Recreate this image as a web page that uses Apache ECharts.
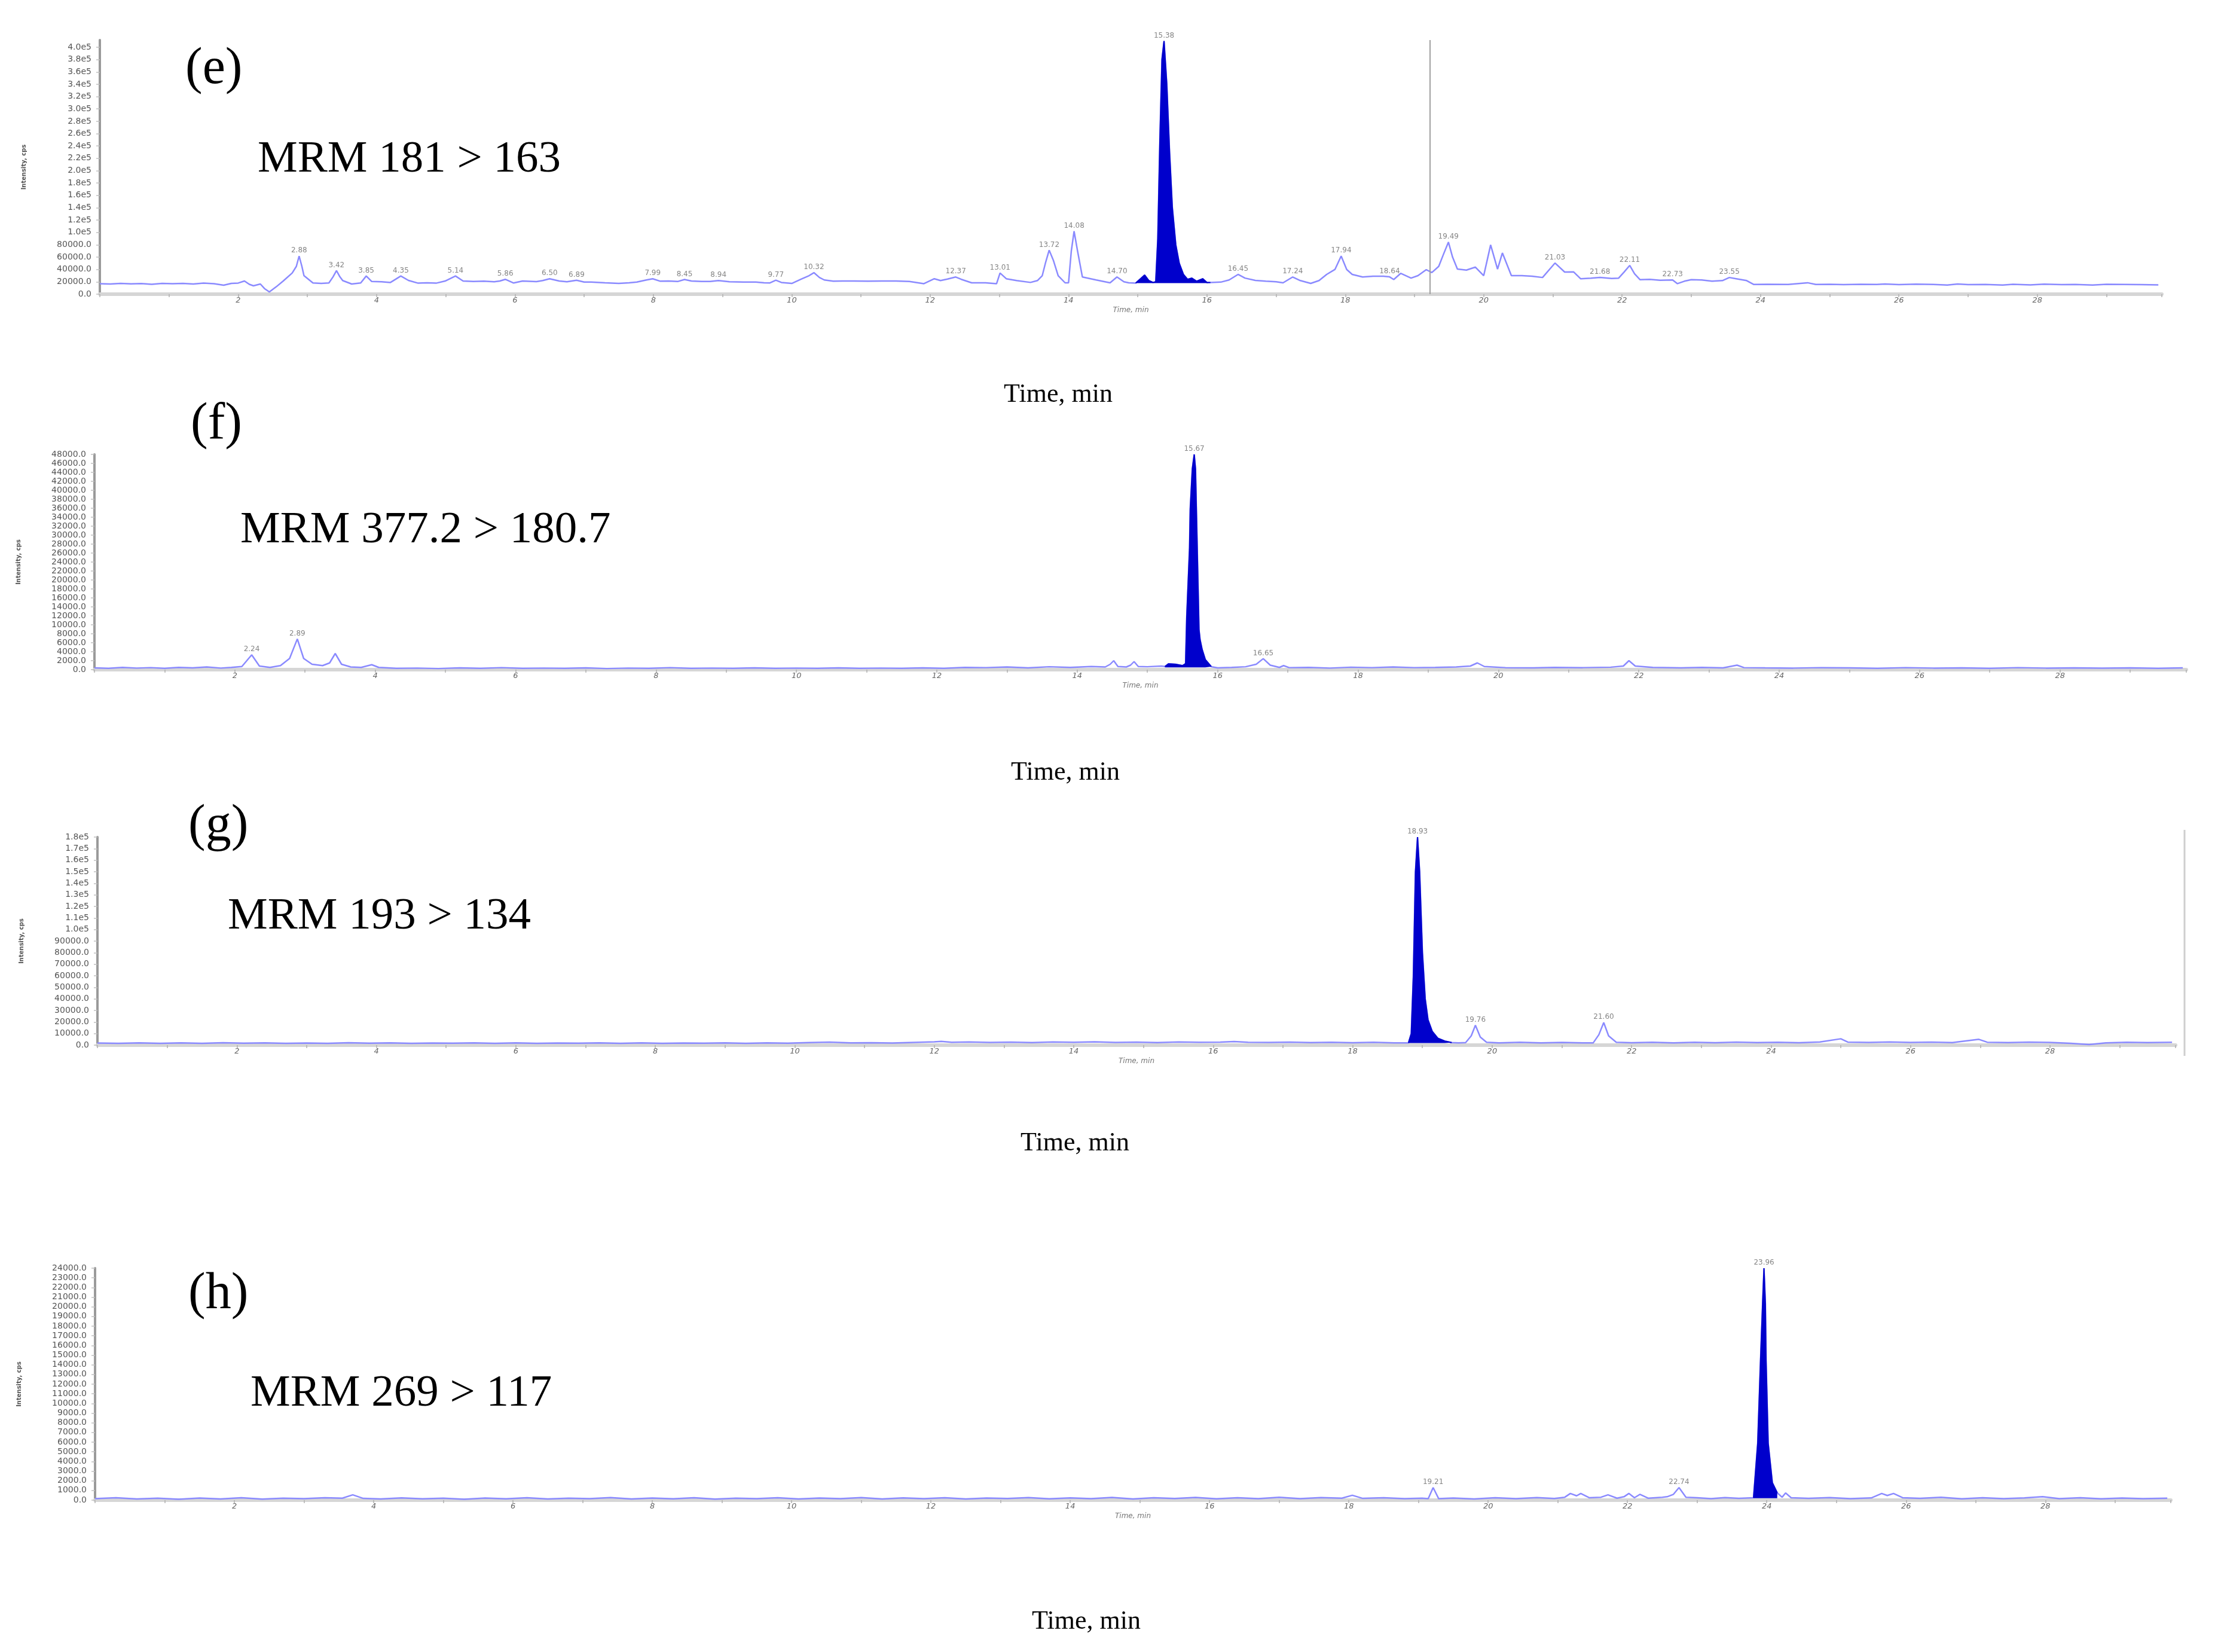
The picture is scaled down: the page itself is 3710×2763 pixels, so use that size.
<!DOCTYPE html>
<html><head><meta charset="utf-8">
<script src="https://cdn.jsdelivr.net/npm/echarts/dist/echarts.min.js"></script>
<style>html,body{margin:0;padding:0;background:#fff}#c{width:3710px;height:2763px}</style>
</head><body><div id="c"></div>
<script>
// ---------- DATA (time in min, intensity in cps) ----------
const panelTitles = ['(e)', '(f)', '(g)', '(h)'];
const mrmLabels = ['MRM 181 > 163', 'MRM 377.2 > 180.7', 'MRM 193 > 134', 'MRM 269 > 117'];
const xTitle = 'Time, min';
const yTitle = 'Intensity, cps';

const traceE = [[0.00,17000],[0.15,16500],[0.30,17500],[0.45,16800],[0.60,17200],[0.75,16000],[0.90,17500],[1.05,17000],[1.20,17400],[1.35,16500],[1.50,17800],[1.65,16900],[1.79,14500],[1.90,17500],[2.00,18000],[2.09,21300],[2.16,16000],[2.22,13600],[2.32,16500],[2.38,9000],[2.45,3600],[2.55,12000],[2.65,21300],[2.78,34200],[2.84,45000],[2.88,61700],[2.92,45000],[2.95,30000],[3.08,18100],[3.20,17500],[3.31,18100],[3.37,28000],[3.42,38100],[3.47,28000],[3.51,22000],[3.64,16500],[3.77,18100],[3.85,29400],[3.93,20500],[4.07,20000],[4.20,19000],[4.35,29400],[4.46,22300],[4.60,17800],[4.73,18500],[4.86,17800],[4.99,21300],[5.14,29400],[5.25,21300],[5.40,20500],[5.55,21000],[5.70,20000],[5.78,21300],[5.86,24000],[5.98,18100],[6.11,21300],[6.31,20300],[6.40,22000],[6.50,25000],[6.64,21300],[6.75,20000],[6.89,22500],[7.00,19700],[7.10,19700],[7.30,18500],[7.50,17400],[7.65,18500],[7.76,19700],[7.90,23000],[7.99,25000],[8.10,21000],[8.22,21300],[8.35,20500],[8.45,23700],[8.55,21300],[8.70,20500],[8.82,20600],[8.94,22000],[9.10,20000],[9.30,19500],[9.48,19700],[9.60,18500],[9.68,18100],[9.77,22600],[9.85,19000],[10.00,17400],[10.14,24500],[10.25,30000],[10.32,34800],[10.40,27000],[10.47,23000],[10.60,21000],[10.73,21300],[10.90,21300],[11.10,21000],[11.30,21300],[11.51,21300],[11.70,20500],[11.91,17000],[12.06,25000],[12.15,22000],[12.25,24500],[12.37,27800],[12.45,24000],[12.60,18400],[12.80,18500],[12.96,17000],[13.01,34200],[13.10,25000],[13.25,22000],[13.45,19000],[13.55,22000],[13.62,30000],[13.67,52000],[13.72,71300],[13.78,55000],[13.85,30000],[13.95,18400],[14.00,18400],[14.04,70000],[14.08,102000],[14.13,70000],[14.20,27800],[14.40,23000],[14.60,18400],[14.70,27800],[14.80,20000],[14.87,18400],[14.97,18000],[15.05,26000],[15.10,31000],[15.16,22000],[15.22,19000],[15.26,20000],[15.29,90000],[15.32,250000],[15.35,380000],[15.38,410000],[15.42,340000],[15.46,230000],[15.50,140000],[15.55,80000],[15.60,50000],[15.66,32000],[15.72,24000],[15.78,26000],[15.85,21000],[15.94,25000],[16.00,19000],[16.05,19000],[16.20,19500],[16.32,23000],[16.45,32000],[16.55,26000],[16.70,22300],[16.85,21000],[17.00,20000],[17.10,18400],[17.24,27800],[17.35,22000],[17.50,17400],[17.62,22000],[17.73,32000],[17.85,40000],[17.94,61700],[18.02,40000],[18.10,32000],[18.25,27800],[18.40,29000],[18.55,29000],[18.64,28000],[18.70,23700],[18.80,33700],[18.95,26000],[19.05,30000],[19.17,39700],[19.25,35000],[19.35,45000],[19.42,65000],[19.49,84300],[19.55,60000],[19.62,40600],[19.75,39000],[19.88,43800],[20.00,30000],[20.10,79800],[20.20,40600],[20.27,66800],[20.40,30000],[20.55,30000],[20.70,29000],[20.85,27000],[21.03,50400],[21.17,35800],[21.30,36000],[21.40,25000],[21.55,26000],[21.68,27000],[21.85,25500],[21.95,26000],[22.03,36000],[22.11,46500],[22.18,33000],[22.26,23400],[22.40,24000],[22.55,22500],[22.73,23000],[22.80,17000],[22.90,21000],[23.00,23400],[23.15,23000],[23.30,21000],[23.45,22000],[23.55,27000],[23.65,25000],[23.80,22000],[23.90,15800],[24.10,16000],[24.40,15800],[24.68,18500],[24.80,15800],[25.00,16000],[25.20,15500],[25.45,16000],[25.68,15800],[25.80,16500],[26.00,15500],[26.25,16300],[26.50,15800],[26.70,14800],[26.85,16500],[27.00,15500],[27.25,15800],[27.50,14800],[27.65,16000],[27.90,15000],[28.10,16200],[28.35,15500],[28.55,15800],[28.80,14800],[29.00,16000],[29.25,15800],[29.50,15500],[29.75,15000]];
const fillRangeE = [14.97, 16.05];
const fillBaseE = 18000;
const peaksE = [2.88,3.42,3.85,4.35,5.14,5.86,6.50,6.89,7.99,8.45,8.94,9.77,10.32,12.37,13.01,13.72,14.08,14.70,15.38,16.45,17.24,17.94,18.64,19.49,21.03,21.68,22.11,22.73,23.55];
const cursorE = 19.22;

const traceF = [[0.00,400],[0.20,300],[0.40,500],[0.60,350],[0.80,450],[1.00,300],[1.20,500],[1.40,400],[1.60,600],[1.80,350],[1.95,500],[2.10,700],[2.24,3300],[2.35,800],[2.50,500],[2.65,900],[2.78,2500],[2.89,6850],[2.98,2500],[3.10,1200],[3.25,900],[3.35,1500],[3.43,3600],[3.52,1200],[3.65,600],[3.80,500],[3.95,1100],[4.05,500],[4.30,300],[4.60,350],[4.90,250],[5.20,400],[5.50,300],[5.80,450],[6.10,300],[6.40,350],[6.70,300],[7.00,400],[7.30,250],[7.60,350],[7.90,300],[8.20,450],[8.50,300],[8.80,350],[9.10,300],[9.40,400],[9.70,300],[10.00,350],[10.30,300],[10.60,400],[10.90,300],[11.20,350],[11.50,300],[11.80,400],[12.10,300],[12.40,500],[12.70,450],[13.00,600],[13.30,400],[13.60,650],[13.90,500],[14.20,700],[14.40,600],[14.47,1200],[14.52,2000],[14.58,700],[14.70,600],[14.76,1000],[14.81,1800],[14.87,700],[15.00,650],[15.20,800],[15.25,700],[15.30,1300],[15.40,1200],[15.50,900],[15.544,1340],[15.56,11650],[15.60,26880],[15.61,35840],[15.64,44800],[15.667,48000],[15.685,44800],[15.71,26880],[15.735,8960],[15.75,6720],[15.78,4480],[15.825,2240],[15.91,670],[16.00,400],[16.20,500],[16.40,650],[16.55,1200],[16.65,2450],[16.75,1000],[16.88,500],[16.94,900],[17.02,450],[17.30,500],[17.60,350],[17.90,550],[18.20,450],[18.50,600],[18.80,450],[19.10,500],[19.40,600],[19.60,800],[19.70,1500],[19.80,700],[20.10,450],[20.50,400],[20.80,500],[21.20,450],[21.60,550],[21.78,800],[21.86,2000],[21.95,800],[22.20,500],[22.60,400],[22.90,500],[23.20,400],[23.40,1000],[23.50,450],[23.80,400],[24.20,350],[24.60,450],[25.00,400],[25.40,300],[25.80,450],[26.20,350],[26.60,400],[27.00,300],[27.40,450],[27.80,350],[28.20,400],[28.60,350],[29.00,400],[29.40,300],[29.75,400]];
const fillRangeF = [15.25, 15.91];
const fillBaseF = 500;
const peaksF = [2.24, 2.89, 15.667, 16.65];

const traceG = [[0.00,1800],[0.30,1600],[0.60,2000],[0.90,1500],[1.20,1900],[1.50,1600],[1.80,2100],[2.10,1700],[2.40,2000],[2.70,1500],[3.00,1800],[3.30,1600],[3.60,2100],[3.90,1700],[4.20,1900],[4.50,1500],[4.80,1800],[5.10,1700],[5.40,2000],[5.70,1600],[6.00,1900],[6.30,1500],[6.60,1800],[6.90,1700],[7.20,2000],[7.50,1600],[7.80,1900],[8.10,1500],[8.40,1800],[8.70,1700],[9.00,2000],[9.30,1600],[9.60,1900],[9.90,1700],[10.20,2200],[10.50,2600],[10.80,1900],[11.10,2100],[11.40,1800],[11.70,2300],[12.00,2800],[12.10,3200],[12.25,2400],[12.50,2700],[12.80,2300],[13.10,2600],[13.40,2200],[13.70,2700],[14.00,2400],[14.30,2800],[14.60,2300],[14.90,2600],[15.20,2200],[15.50,2700],[15.80,2400],[16.10,2600],[16.30,3100],[16.50,2500],[16.80,2300],[17.10,2600],[17.40,2200],[17.70,2500],[18.00,2100],[18.30,2400],[18.60,2000],[18.80,2000],[18.84,10000],[18.87,60000],[18.90,150000],[18.93,180000],[18.96,150000],[19.00,80000],[19.04,40000],[19.08,22000],[19.14,12000],[19.22,6000],[19.32,3500],[19.42,2200],[19.52,2000],[19.62,2200],[19.70,8000],[19.76,17200],[19.83,7000],[19.92,2500],[20.10,2000],[20.40,2400],[20.70,1900],[21.00,2300],[21.30,2000],[21.45,2000],[21.53,9000],[21.60,19500],[21.67,8000],[21.78,2500],[22.00,2100],[22.30,2500],[22.60,2000],[22.90,2400],[23.20,2100],[23.50,2600],[23.80,2200],[24.10,2500],[24.40,2100],[24.70,2700],[25.00,5500],[25.10,2600],[25.40,2300],[25.70,2700],[26.00,2300],[26.30,2600],[26.60,2200],[26.98,5000],[27.10,2500],[27.40,2200],[27.70,2600],[28.00,2300],[28.30,1600],[28.56,500],[28.80,2000],[29.10,2500],[29.40,2200],[29.75,2400]];
const fillRangeG = [18.80, 19.42];
const fillBaseG = 1800;
const peaksG = [18.93, 19.76, 21.60];

const traceH = [[0.00,150],[0.30,250],[0.60,120],[0.90,200],[1.20,100],[1.50,220],[1.80,130],[2.10,240],[2.40,110],[2.70,200],[3.00,150],[3.30,250],[3.55,200],[3.70,550],[3.85,180],[4.10,120],[4.40,230],[4.70,140],[5.00,200],[5.30,100],[5.60,220],[5.90,140],[6.20,250],[6.50,120],[6.80,200],[7.10,150],[7.40,260],[7.70,120],[8.00,210],[8.30,140],[8.60,240],[8.90,110],[9.20,200],[9.50,150],[9.80,250],[10.10,130],[10.40,220],[10.70,150],[11.00,260],[11.30,120],[11.60,230],[11.90,160],[12.20,250],[12.50,130],[12.80,220],[13.10,170],[13.40,260],[13.70,140],[14.00,230],[14.30,150],[14.60,280],[14.90,130],[15.20,240],[15.50,170],[15.80,280],[16.10,140],[16.40,250],[16.70,160],[17.00,290],[17.30,150],[17.60,260],[17.90,200],[18.05,500],[18.20,180],[18.50,250],[18.80,150],[19.05,200],[19.14,150],[19.21,1300],[19.29,150],[19.50,220],[19.80,130],[20.10,240],[20.40,150],[20.70,260],[20.95,170],[21.10,300],[21.18,690],[21.27,450],[21.33,690],[21.45,250],[21.62,300],[21.72,550],[21.85,200],[21.95,350],[22.02,690],[22.10,250],[22.18,600],[22.30,200],[22.50,300],[22.57,350],[22.66,600],[22.74,1300],[22.84,300],[23.00,250],[23.20,150],[23.40,260],[23.60,180],[23.81,240],[23.87,5900],[23.91,14400],[23.94,20300],[23.96,24000],[23.98,20300],[23.99,14400],[24.02,5900],[24.08,1800],[24.15,760],[24.22,300],[24.27,740],[24.35,250],[24.60,180],[24.90,260],[25.20,150],[25.50,230],[25.65,690],[25.73,480],[25.82,690],[25.95,250],[26.20,180],[26.50,300],[26.80,140],[27.10,250],[27.40,160],[27.70,230],[27.96,350],[28.20,150],[28.50,240],[28.80,140],[29.10,220],[29.40,150],[29.75,200]];
const fillRangeH = [23.81, 24.15];
const fillBaseH = 200;
const peaksH = [19.21, 22.74, 23.96];

const yMaxes = [411600, 48000, 180000, 24000];
const ySteps = [20000, 2000, 10000, 1000];
const xMax = 29.8;
const xStep = 2;

// ---------- helpers ----------
const fmtSci = v => v >= 1e5 ? (v / 1e5).toFixed(1) + 'e5' : v.toFixed(1);
const fmtFix = v => v.toFixed(1);
function inRange(tr, r) { return tr.filter(p => p[0] >= r[0] - 1e-9 && p[0] <= r[1] + 1e-9); }
function peakPts(tr, peaks) {
  return peaks.map(pk => {
    let best = tr[0], bd = 1e9;
    tr.forEach(p => { const d = Math.abs(p[0] - pk); if (d < bd) { bd = d; best = p; } });
    return [pk, best[1]];
  });
}

const panels = [
  { trace: traceE, fill: fillRangeE, base: fillBaseE, peaks: peaksE, fmt: fmtSci,
    grid: { left: 167, top: 67, width: 3449, height: 425 } },
  { trace: traceF, fill: fillRangeF, base: fillBaseF, peaks: peaksF, fmt: fmtFix,
    grid: { left: 158, top: 760, width: 3499, height: 360 } },
  { trace: traceG, fill: fillRangeG, base: fillBaseG, peaks: peaksG, fmt: fmtSci,
    grid: { left: 163, top: 1400, width: 3476, height: 348 } },
  { trace: traceH, fill: fillRangeH, base: fillBaseH, peaks: peaksH, fmt: fmtFix,
    grid: { left: 159, top: 2121, width: 3472, height: 388 } }
];

const LINE = '#8a8aff', FILL = '#0000cc';
const grids = [], xAxes = [], yAxes = [], series = [];
panels.forEach((p, i) => {
  grids.push(Object.assign({ containLabel: false, outerBoundsMode: 'none' }, p.grid));
  xAxes.push({
    type: 'value', gridIndex: i, min: 0, max: xMax, interval: xStep,
    axisLine: { show: true, onZero: false, lineStyle: { color: '#d6d6d6', width: 6 } },
    axisTick: { show: true, length: 5, lineStyle: { color: '#b0b0b0', width: 1.5 } },
    minorTick: { show: true, splitNumber: 2, length: 5, lineStyle: { color: '#b0b0b0', width: 1.5 } },
    axisLabel: { showMinLabel: false, showMaxLabel: false, margin: 4, fontSize: 13, color: '#666', fontStyle: 'italic' },
    splitLine: { show: false },
    name: xTitle, nameLocation: 'middle', nameGap: 21,
    nameTextStyle: { fontSize: 12, color: '#777', fontStyle: 'italic' }
  });
  yAxes.push({
    type: 'value', gridIndex: i, min: 0, max: yMaxes[i], interval: ySteps[i],
    axisLine: { show: true, lineStyle: { color: '#9a9a9a', width: 4 } },
    axisTick: { show: true, length: 6, lineStyle: { color: '#c0c0c0', width: 1.5 } },
    axisLabel: { fontSize: 14, color: '#555', margin: 14, formatter: p.fmt },
    splitLine: { show: false },
    name: yTitle, nameLocation: 'middle', nameGap: 122, nameRotate: 90,
    nameTextStyle: { fontSize: 10, color: '#555', fontWeight: 'bold' }
  });
  const trace = {
    type: 'line', xAxisIndex: i, yAxisIndex: i, data: p.trace, symbol: 'none',
    lineStyle: { color: LINE, width: 2.5 }, silent: true, z: 2
  };
  if (i === 0) {
    trace.markLine = { symbol: 'none', silent: true, label: { show: false },
      lineStyle: { color: '#a0a0a0', width: 2, type: 'solid' }, data: [{ xAxis: cursorE }] };
  }
  series.push(trace);
  series.push({
    type: 'line', xAxisIndex: i, yAxisIndex: i, data: inRange(p.trace, p.fill), symbol: 'none',
    lineStyle: { color: FILL, width: 2 }, areaStyle: { color: FILL, opacity: 1, origin: p.base },
    silent: true, z: 3
  });
  series.push({
    type: 'scatter', xAxisIndex: i, yAxisIndex: i, data: peakPts(p.trace, p.peaks),
    symbolSize: 0, silent: true, z: 4,
    label: { show: true, position: 'top', distance: 3, fontSize: 12, color: '#666',
      formatter: q => q.value[0].toFixed(2) }
  });
});

const serif = '"Liberation Serif","Times New Roman",serif';
const txt = (text, x, y, size, align) => ({
  type: 'text', x: x, y: y, silent: true,
  style: { text: text, font: size + 'px ' + serif, fill: '#000', align: align || 'left', verticalAlign: 'middle' }
});
const graphic = [
  txt(panelTitles[0], 310, 116, 86), txt(mrmLabels[0], 431, 267, 75), txt(xTitle, 1770, 660, 44, 'center'),
  txt(panelTitles[1], 319, 710, 86), txt(mrmLabels[1], 402, 887, 75), txt(xTitle, 1782, 1292, 44, 'center'),
  txt(panelTitles[2], 315, 1382, 86), txt(mrmLabels[2], 381, 1533, 75), txt(xTitle, 1798, 1912, 44, 'center'),
  txt(panelTitles[3], 315, 2165, 86), txt(mrmLabels[3], 419, 2331, 75), txt(xTitle, 1817, 2712, 44, 'center'),
  { type: 'line', silent: true, shape: { x1: 3654, y1: 1388, x2: 3654, y2: 1766 },
    style: { stroke: '#cfcfcf', lineWidth: 3 } }
];

const chart = echarts.init(document.getElementById('c'), null, { renderer: 'canvas' });
chart.setOption({
  animation: false,
  backgroundColor: '#ffffff',
  textStyle: { fontFamily: '"DejaVu Sans", sans-serif' },
  grid: grids, xAxis: xAxes, yAxis: yAxes, series: series, graphic: graphic
});
</script>
</body></html>
